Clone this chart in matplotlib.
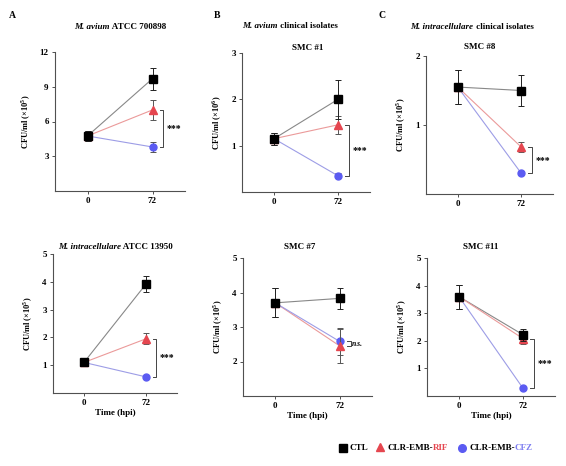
import matplotlib
matplotlib.use("Agg")
import matplotlib.pyplot as plt

SERIF = ['Liberation Serif', 'DejaVu Serif']
plt.rcParams['font.family'] = SERIF
plt.rcParams['mathtext.fontset'] = 'custom'
plt.rcParams['mathtext.rm'] = 'Liberation Serif:bold'
plt.rcParams['mathtext.bf'] = 'Liberation Serif:bold'

# ---------------- data ----------------
times = [0, 72]
time_labels = ['0', '72']
ctl_means = [[4.75, 9.7], [1.15, 2.0], [1.55, 1.5], [1.1, 3.92], [3.7, 3.83], [3.6, 2.22]]
ctl_err = [[0.45, 0.95], [0.13, 0.42], [0.25, 0.22], [0.08, 0.28], [0.42, 0.30], [0.43, 0.22]]
rif_means = [[4.75, 7.0], [1.15, 1.45], [1.55, 0.68], [1.1, 1.95], [3.7, 2.45], [3.6, 2.08]]
rif_err = [[0.45, 0.85], [0.13, 0.20], [0.25, 0.07], [0.08, 0.20], [0.42, 0.48], [0.43, 0.20]]
cfz_means = [[4.75, 3.8], [1.15, 0.35], [1.55, 0.3], [1.1, 0.58], [3.7, 2.58], [3.6, 0.28]]
cfz_err = [[0.45, 0.45], [0.13, 0.05], [0.25, 0.03], [0.08, 0.04], [0.42, 0.38], [0.43, 0.03]]
ylims = [(0, 12), (0, 3), (0, 2), (0, 5), (1, 5), (0, 5)]
yticks = [[3, 6, 9, 12], [1, 2, 3], [1, 2], [1, 2, 3, 4, 5], [2, 3, 4, 5], [1, 2, 3, 4, 5]]
exponents = ['5', '6', '5', '5', '5', '5']
signif = ['***', '***', '***', '***', 'n.s.', '***']

# ---------------- layout ----------------
W, H = 566, 466
fig = plt.figure(figsize=(W / 100, H / 100), dpi=100)
boxes_px = [(55, 52, 185, 191), (242, 53, 370, 192), (426, 56, 553, 194),
            (53, 254, 177, 393), (243, 258, 372, 396), (427, 258, 555, 396)]

CTL_C = 'black'
RIF_C = '#e5464f'
CFZ_C = '#5b5bf2'
RIF_L = '#eb9a9a'
CFZ_L = '#9d9de6'
SPINE = '#505050'

axes = []
for i, (x0, y0, x1, y1) in enumerate(boxes_px):
    ax = fig.add_axes([x0 / W, 1 - y1 / H, (x1 - x0) / W, (y1 - y0) / H])
    axes.append(ax)
    # lines
    ax.plot(times, ctl_means[i], color='#888888', lw=0.8, zorder=2)
    ax.plot(times, rif_means[i], color=RIF_L, lw=0.8, zorder=2)
    ax.plot(times, cfz_means[i], color=CFZ_L, lw=0.8, zorder=2)
    # error bars + markers
    ax.errorbar(times, cfz_means[i], yerr=cfz_err[i], fmt='o', ms=5, color=CFZ_C,
                ecolor='#555555', elinewidth=0.7, capsize=2.5, capthick=0.7, zorder=3)
    ax.errorbar(times, rif_means[i], yerr=rif_err[i], fmt='^', ms=5.5, color=RIF_C,
                ecolor='#555555', elinewidth=0.7, capsize=2.5, capthick=0.7, zorder=4)
    ax.errorbar(times, ctl_means[i], yerr=ctl_err[i], fmt='s', ms=6, color=CTL_C,
                ecolor='#222222', elinewidth=0.7, capsize=2.5, capthick=0.7, zorder=5)
    ax.set_xlim(-36, 108)
    ax.set_ylim(*ylims[i])
    ax.set_yticks(yticks[i])
    ax.set_xticks(times)
    ax.set_xticklabels(time_labels)
    for s in ['top', 'right']:
        ax.spines[s].set_visible(False)
    for s in ['left', 'bottom']:
        ax.spines[s].set_color(SPINE)
        ax.spines[s].set_linewidth(0.8)
    ax.tick_params(axis='both', length=2.5, width=0.7, color=SPINE, labelsize=6.5, pad=2)
    for lab in ax.get_xticklabels() + ax.get_yticklabels():
        lab.set_fontweight('bold')
    ax.set_ylabel(r'CFU/ml ($\times$10$^{%s}$)' % exponents[i], fontsize=6,
                  fontweight='bold', labelpad=5)
    if i >= 3:
        ax.set_xlabel('Time (hpi)', fontsize=6.5, fontweight='bold', labelpad=1)
    # significance bracket
    lo = min(rif_means[i][1], cfz_means[i][1])
    hi = max(rif_means[i][1], cfz_means[i][1])
    bx = 84
    ax.plot([bx - 4, bx, bx, bx - 4], [hi, hi, lo, lo], color='#444444', lw=0.7,
            clip_on=False, zorder=6)
    if signif[i] == 'n.s.':
        ax.text(bx + 2, (hi + lo) / 2, signif[i], fontsize=5.5, fontstyle='italic',
                fontweight='bold', va='center', ha='left')
    else:
        ax.text(bx + 4, (hi + lo) / 2, signif[i], fontsize=7, fontweight='bold',
                va='center', ha='left')

# ---------------- overlay for titles and legend ----------------
ov = fig.add_axes([0, 0, 1, 1], zorder=10)
ov.set_xlim(0, W)
ov.set_ylim(H, 0)
ov.axis('off')
renderer = fig.canvas.get_renderer()


def rich(x, y, parts, size=6.5, ha='center'):
    txts = []
    widths = []
    for s, style, color in parts:
        t = ov.text(0, y, s, fontsize=size, fontweight='bold', fontstyle=style,
                    color=color, va='center', ha='left')
        bb = t.get_window_extent(renderer)
        txts.append(t)
        widths.append(bb.width)
    total = sum(widths)
    start = x - total / 2 if ha == 'center' else x
    for t, w in zip(txts, widths):
        t.set_x(start)
        start += w


rich(120, 27, [('M. avium', 'italic', 'black'), (' ATCC 700898', 'normal', 'black')])
rich(290, 26, [('M. avium', 'italic', 'black'), (' clinical isolates', 'normal', 'black')])
rich(472, 27, [('M. intracellulare', 'italic', 'black'), (' clinical isolates', 'normal', 'black')])
rich(308, 48, [('SMC #1', 'normal', 'black')])
rich(480, 47, [('SMC #8', 'normal', 'black')])
rich(115, 247, [('M. intracellulare', 'italic', 'black'), (' ATCC 13950', 'normal', 'black')])
rich(300, 247, [('SMC #7', 'normal', 'black')])
rich(481, 247, [('SMC #11', 'normal', 'black')])

for lx, ly, letter in [(12, 15, 'A'), (217, 15, 'B'), (382, 15, 'C')]:
    ov.text(lx, ly, letter, fontsize=7, fontweight='bold', va='center', ha='center')

# legend
ov.plot([343], [448], 's', color=CTL_C, ms=5.5)
rich(349, 448, [('CTL', 'normal', 'black')], size=6.5, ha='left')
ov.plot([380], [447], '^', color=RIF_C, ms=6)
rich(387, 448, [('CLR-EMB-', 'normal', 'black'), ('RIF', 'normal', RIF_C)], size=6.5, ha='left')
ov.plot([462], [448], 'o', color=CFZ_C, ms=5.5)
rich(469, 448, [('CLR-EMB-', 'normal', 'black'), ('CFZ', 'normal', '#7b7bf0')], size=6.5, ha='left')

fig.savefig('out.png', dpi=100)
